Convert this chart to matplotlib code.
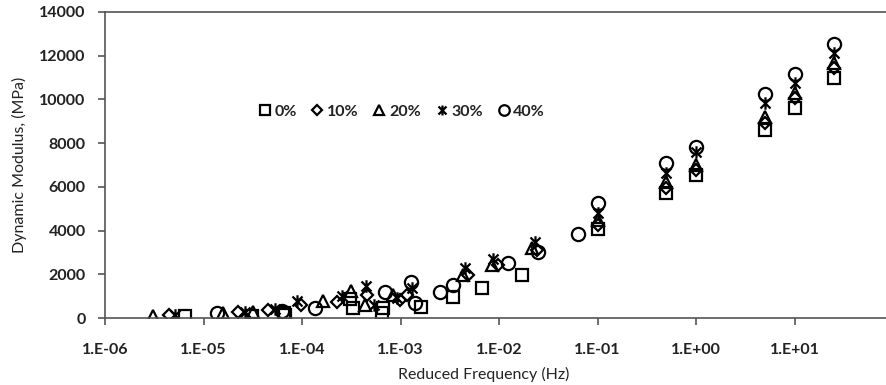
import matplotlib.pyplot as plt
import numpy as np
from matplotlib.path import Path

plt.rcParams['font.family'] = ['Lato', 'DejaVu Sans']

# data: reduced frequency (Hz) and dynamic modulus (MPa)
f_0 = [6.5e-6, 3.1e-5, 6.5e-5, 6.7e-5, 3.1e-4, 3.3e-4, 6.5e-4, 6.6e-4, 1.61e-3,
       3.41e-3, 6.71e-3, 1.71e-2, 0.1, 0.5, 1, 5, 10, 25]
e_0 = [100, 100, 250, 130, 870, 450, 230, 450, 520,
       975, 1370, 1970, 4070, 5720, 6540, 8600, 9600, 10980]

f_10 = [4.5e-6, 2.24e-5, 4.5e-5, 9.8e-5, 2.27e-4, 4.57e-4, 9.9e-4, 1.16e-3,
        4.84e-3, 9.77e-3, 2.43e-2, 0.1, 0.5, 1, 5, 10, 25]
e_10 = [140, 290, 370, 600, 750, 1050, 820, 1050,
        1970, 2420, 3110, 4250, 5940, 6770, 8920, 10060, 11440]

f_20 = [3.1e-6, 1.58e-5, 3.18e-5, 1.63e-4, 3.14e-4, 4.36e-4, 8.4e-4,
        4.31e-3, 8.49e-3, 2.16e-2, 0.1, 0.5, 1, 5, 10, 25]
e_20 = [100, 220, 270, 780, 1250, 590, 1050,
        1970, 2420, 3200, 4480, 6220, 7000, 9200, 10290, 11660]

f_30 = [5.1e-6, 2.64e-5, 5.3e-5, 8.9e-5, 2.55e-4, 4.47e-4, 5.38e-4, 9.2e-4,
        1.31e-3, 4.52e-3, 8.69e-3, 2.32e-2, 0.1, 0.5, 1, 5, 10, 25]
e_30 = [150, 290, 400, 780, 1000, 1460, 590, 915,
        1370, 2280, 2700, 3490, 4800, 6630, 7600, 9830, 10750, 12120]

f_40 = [1.37e-5, 6.3e-5, 1.36e-4, 6.96e-4, 1.28e-3, 1.40e-3, 2.52e-3, 3.41e-3,
        1.23e-2, 2.49e-2, 6.34e-2, 0.1, 0.5, 1, 5, 10, 25]
e_40 = [240, 300, 460, 1200, 1660, 690, 1200, 1510,
        2500, 3020, 3840, 5250, 7090, 7820, 10250, 11150, 12550]

labels = ['0%', '10%', '20%', '30%', '40%']
x_ticks = [1e-6, 1e-5, 1e-4, 1e-3, 1e-2, 1e-1, 1e0, 1e1]
x_ticklabels = ['1.E-06', '1.E-05', '1.E-04', '1.E-03', '1.E-02', '1.E-01', '1.E+00', '1.E+01']
y_ticks = [0, 2000, 4000, 6000, 8000, 10000, 12000, 14000]

# excel style star: X with a vertical bar
star = Path([(-1, -1), (1, 1), (-1, 1), (1, -1), (0, -1.25), (0, 1.25)],
            [Path.MOVETO, Path.LINETO, Path.MOVETO, Path.LINETO, Path.MOVETO, Path.LINETO])

fig = plt.figure(figsize=(8.86, 3.85), dpi=100)
ax = fig.add_axes([105 / 886, 67 / 385, 781 / 886, 306 / 385])

series = [(f_0, e_0, 's', 9), (f_10, e_10, 'D', 6.5), (f_20, e_20, '^', 9),
          (f_30, e_30, star, 9), (f_40, e_40, 'o', 9.5)]
for (f, e, m, ms), lab in zip(series, labels):
    ax.plot(f, e, linestyle='none', marker=m, markersize=ms, markerfacecolor='none',
            markeredgecolor='black', markeredgewidth=1.6, label=lab)

ax.set_xscale('log')
ax.set_xlim(1e-6, 10 ** (-6 + 781 / 98.5))
ax.set_ylim(0, 14000)
ax.set_xticks(x_ticks)
ax.set_xticklabels(x_ticklabels)
ax.minorticks_off()
ax.set_yticks(y_ticks)

for side in ['left', 'bottom', 'top']:
    ax.spines[side].set_color('#555555')
    ax.spines[side].set_linewidth(1.2)
ax.spines['right'].set_visible(False)
ax.tick_params(axis='both', direction='out', length=5, width=1.2, color='#555555',
               labelsize=11.5, labelcolor='#222222')
ax.tick_params(axis='x', pad=13)
ax.tick_params(axis='y', pad=9)
for t in ax.get_xticklabels() + ax.get_yticklabels():
    t.set_fontweight('bold')

ax.set_ylabel('Dynamic Modulus, (MPa)', fontsize=11.5, color='#222222')
ax.set_xlabel('Reduced Frequency (Hz)', fontsize=11.5, color='#222222')
ax.xaxis.label.set_va('center')
ax.yaxis.label.set_va('center')
ax.xaxis.set_label_coords(0.485, -0.186)
ax.yaxis.set_label_coords(-0.109, 0.5)

leg = ax.legend(loc='upper left', bbox_to_anchor=(0.18, 0.745), ncol=5, frameon=False,
                fontsize=11.5, handlelength=0.6, handletextpad=0.3, columnspacing=1.0,
                markerscale=0.8)
for t in leg.get_texts():
    t.set_fontweight('bold')
    t.set_color('#222222')

fig.savefig('out.png', dpi=100)
